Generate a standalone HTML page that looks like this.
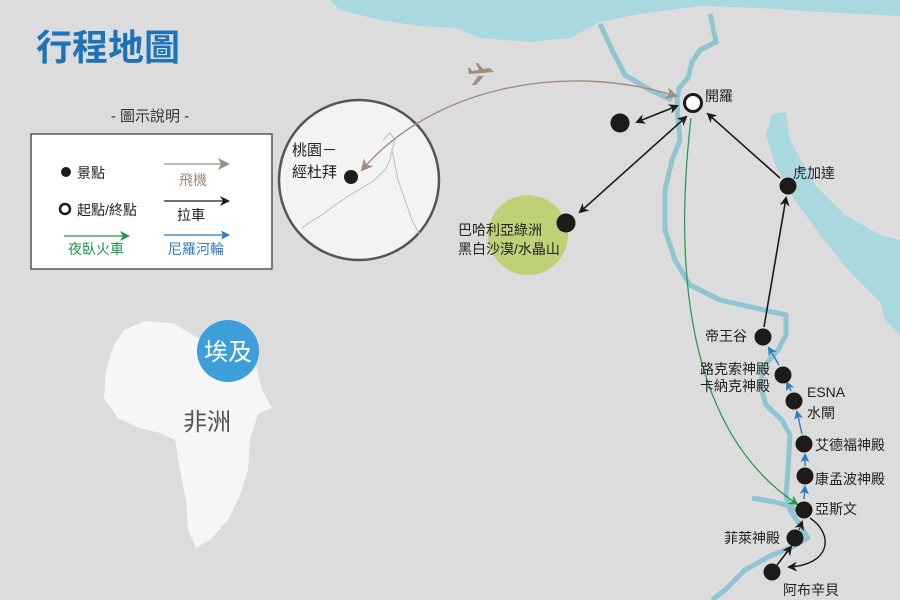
<!DOCTYPE html>
<html><head><meta charset="utf-8"><style>
html,body{margin:0;padding:0;width:900px;height:600px;overflow:hidden;background:#dcdcdc}
svg{display:block}
text{font-family:"Liberation Sans","Noto Sans CJK TC",sans-serif;fill:#222}
</style></head><body>
<svg width="900" height="600" viewBox="0 0 900 600" xmlns="http://www.w3.org/2000/svg">
<defs>
<marker id="ak" markerWidth="10" markerHeight="10" refX="8" refY="5" orient="auto" markerUnits="userSpaceOnUse"><path d="M0,0 L10,5 L0,10 L3,5 Z" fill="#1e1a1a"/></marker>
<marker id="aks" markerWidth="10" markerHeight="10" refX="8" refY="5" orient="auto-start-reverse" markerUnits="userSpaceOnUse"><path d="M0,0 L10,5 L0,10 L3,5 Z" fill="#1e1a1a"/></marker>
<marker id="ab" markerWidth="9" markerHeight="9" refX="7" refY="4.5" orient="auto" markerUnits="userSpaceOnUse"><path d="M0,0 L9,4.5 L0,9 L2,4.5 Z" fill="#2c7cc4"/></marker>
<marker id="ag" markerWidth="10" markerHeight="10" refX="8" refY="5" orient="auto" markerUnits="userSpaceOnUse"><path d="M0,0 L10,5 L0,10 L3,5 Z" fill="#1a9a4a"/></marker>
<marker id="ap" markerWidth="12" markerHeight="12" refX="10" refY="6" orient="auto-start-reverse" markerUnits="userSpaceOnUse"><path d="M0,0 L12,6 L0,12 L3,6 Z" fill="#a08c80"/></marker>
</defs>
<path d="M330,0 L900,0 L900,16 L820,12 L760,8 L700,6 L640,14 L600,22 L570,38 L530,42 L480,38 L455,28 L420,26 L380,20 L340,10 Z" fill="#a9d8df"/>
<path d="M772,114 L786,112 L790,140 L815,185 L845,215 L880,235 L900,240 L900,315 L880,302 L850,272 L820,235 L795,200 L775,165 L766,135 Z" fill="#a9d8df"/>
<path d="M880,300 L900,300 L900,335 L885,320 Z" fill="#a9d8df"/>
<g fill="none" stroke="#8fc4d0" stroke-width="5" stroke-linejoin="round">
<path d="M600,24 L612,50 L625,75 L650,90 L672,100"/>
<path d="M710,14 L716,42 L700,50 L692,62 L688,78 L679,88 L677,100 L678,120 L680,140 L672,160 L665,190 L665,230 L675,260 L690,285 L720,300 L755,308 L786,315 L786,335 L778,350 L765,365 L760,385 L766,405 L782,420 L790,435 L788,470 L786,495 L790,510 L800,525 L808,538 L790,548 L770,556 L745,570 L725,590 L712,600"/>
<path d="M752,498 L775,502 L790,506 L800,512"/>
</g>
<path d="M124,330 L145,321 L172,323 L188,332 L202,340 L218,338 L240,352 L255,362 L262,390 L272,408 L258,414 L250,440 L248,470 L240,495 L228,520 L210,540 L196,548 L188,530 L186,500 L180,470 L175,440 L160,433 L140,428 L118,418 L104,398 L106,370 L114,345 Z" fill="#f6f6f6"/>
<circle cx="228" cy="351" r="31" fill="#3d9fd9"/>
<text x="228" y="360" font-size="24" text-anchor="middle" style="fill:#fff">埃及</text>
<text x="207" y="430" font-size="24" text-anchor="middle" style="fill:#555">非洲</text>
<text x="36" y="60" font-size="36" font-weight="bold" style="fill:#1d73ba">行程地圖</text>
<text x="150" y="121" font-size="15" text-anchor="middle" style="fill:#333">- 圖示說明 -</text>
<rect x="31" y="134" width="241" height="135" fill="#fff" stroke="#555" stroke-width="1.5"/>
<circle cx="66" cy="172" r="5" fill="#1e1a1a"/><text x="77" y="178" font-size="14">景點</text>
<circle cx="65" cy="209" r="5" fill="none" stroke="#1e1a1a" stroke-width="2.5"/><text x="77" y="215" font-size="14">起點/終點</text>
<line x1="164" y1="164" x2="228" y2="164" stroke="#a08c80" stroke-width="1.2" marker-end="url(#ap)"/>
<text x="193" y="185" font-size="14" text-anchor="middle" style="fill:#a08c80">飛機</text>
<line x1="164" y1="201" x2="228" y2="201" stroke="#1e1a1a" stroke-width="1.2" marker-end="url(#ak)"/>
<text x="191" y="220" font-size="14" text-anchor="middle">拉車</text>
<line x1="64" y1="236" x2="128" y2="236" stroke="#1a9a4a" stroke-width="1.2" marker-end="url(#ag)"/>
<text x="96" y="254" font-size="14" text-anchor="middle" style="fill:#1a9a4a">夜臥火車</text>
<line x1="164" y1="235" x2="228" y2="235" stroke="#2c7cc4" stroke-width="1.2" marker-end="url(#ab)"/>
<text x="196" y="254" font-size="14" text-anchor="middle" style="fill:#2c7cc4">尼羅河輪</text>
<circle cx="359" cy="180" r="80" fill="#f3f3f3" stroke="#555" stroke-width="2.5"/>
<path d="M383,140 L390,133 L395,140 L392,150 L390,160 L385,170 L372,182 L350,195 L335,205 L322,215 L310,222 L302,228" fill="none" stroke="#bbb" stroke-width="1"/>
<path d="M392,150 L398,180 L405,200 L412,220 L420,235" fill="none" stroke="#bbb" stroke-width="1"/>
<text x="292" y="155" font-size="15">桃園－</text>
<text x="292" y="177" font-size="15">經杜拜</text>
<circle cx="351" cy="177" r="7" fill="#1e1a1a"/>
<circle cx="528" cy="235" r="40" fill="#bed176"/>
<path d="M362,170 C430,90 560,60 676,96" fill="none" stroke="#a08c80" stroke-width="1.4" marker-start="url(#ap)" marker-end="url(#ap)"/>
<path d="M470,74 L494,72 L490,68 L483,69 L478,63 L476,63 L479,70 L472,71 L470,68 L468,68 L469,74 Z M478,76 L472,85 L476,85 L484,76 Z" fill="#a08c80"/>
<path d="M691,118 C670,300 700,440 797,504" fill="none" stroke="#1a9a4a" stroke-width="1.2" marker-end="url(#ag)"/>
<line x1="637" y1="122" x2="677" y2="106" stroke="#1e1a1a" stroke-width="1.6" marker-start="url(#aks)" marker-end="url(#aks)"/>
<line x1="580" y1="212" x2="686" y2="117" stroke="#1e1a1a" stroke-width="1.6" marker-start="url(#aks)" marker-end="url(#aks)"/>
<line x1="780" y1="178" x2="708" y2="114" stroke="#1e1a1a" stroke-width="1.6" marker-end="url(#ak)"/>
<line x1="764" y1="327" x2="786" y2="198" stroke="#1e1a1a" stroke-width="1.6" marker-end="url(#ak)"/>
<line x1="777" y1="565" x2="791" y2="547" stroke="#1e1a1a" stroke-width="1.6" marker-end="url(#ak)"/>
<line x1="799" y1="530" x2="802" y2="522" stroke="#1e1a1a" stroke-width="1" marker-end="url(#ak)"/>
<path d="M810,518 C835,535 830,565 789,567" fill="none" stroke="#1e1a1a" stroke-width="1.4" marker-end="url(#ak)"/>
<g stroke="#2c7cc4" stroke-width="1.4" marker-end="url(#ab)">
<line x1="779" y1="365" x2="769" y2="348"/>
<line x1="791" y1="391" x2="787" y2="383"/>
<line x1="802" y1="434" x2="797" y2="412"/>
<line x1="805" y1="466" x2="805" y2="455"/>
<line x1="804" y1="499" x2="805" y2="487"/>
</g>
<g fill="#1e1a1a">
<circle cx="620" cy="123" r="9.5"/>
<circle cx="566" cy="223" r="9.5"/>
<circle cx="788" cy="186" r="8.5"/>
<circle cx="763" cy="337" r="8.5"/>
<circle cx="783" cy="375" r="8.5"/>
<circle cx="794" cy="401" r="8.5"/>
<circle cx="804" cy="444" r="8.5"/>
<circle cx="805" cy="476" r="8.5"/>
<circle cx="804" cy="510" r="8.5"/>
<circle cx="795" cy="538" r="8.5"/>
<circle cx="772" cy="572" r="8.5"/>
</g>
<circle cx="693" cy="103" r="8.5" fill="#fff" stroke="#1e1a1a" stroke-width="3"/>
<g font-size="14">
<text x="705" y="101">開羅</text>
<text x="793" y="178">虎加達</text>
<text x="458" y="235">巴哈利亞綠洲</text>
<text x="458" y="254">黑白沙漠/水晶山</text>
<text x="705" y="341">帝王谷</text>
<text x="700" y="374">路克索神殿</text>
<text x="700" y="391">卡納克神殿</text>
<text x="807" y="397">ESNA</text>
<text x="807" y="418">水閘</text>
<text x="815" y="450">艾德福神殿</text>
<text x="815" y="484">康孟波神殿</text>
<text x="815" y="514">亞斯文</text>
<text x="724" y="543">菲萊神殿</text>
<text x="783" y="595">阿布辛貝</text>
</g>
</svg>
</body></html>
